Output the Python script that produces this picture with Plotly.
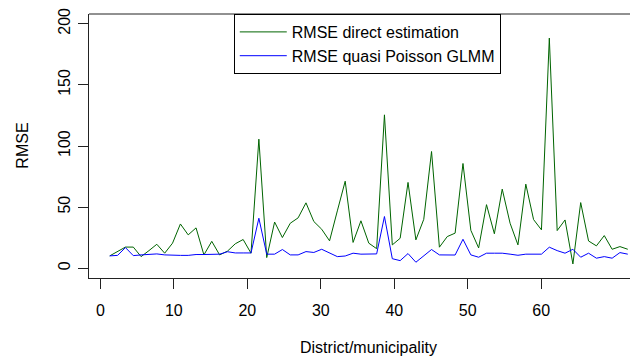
import plotly.graph_objects as go

# district positions along the x axis (67 evenly spaced points)
district_x = [
    1.27, 2.34, 3.41, 4.48, 5.54, 6.61, 7.68, 8.75, 9.82, 10.89,
    11.95, 13.02, 14.09, 15.16, 16.23, 17.30, 18.36, 19.43, 20.50, 21.57,
    22.64, 23.71, 24.77, 25.84, 26.91, 27.98, 29.05, 30.12, 31.19, 32.25,
    33.32, 34.39, 35.46, 36.53, 37.60, 38.66, 39.73, 40.80, 41.87, 42.94,
    44.01, 45.07, 46.14, 47.21, 48.28, 49.35, 50.42, 51.48, 52.55, 53.62,
    54.69, 55.76, 56.83, 57.90, 58.96, 60.03, 61.10, 62.17, 63.24, 64.31,
    65.37, 66.44, 67.51, 68.58, 69.65, 70.71, 71.78,
]

rmse_direct = [
    10.1, 13.6, 17.3, 17.3, 9.5, 14.4, 19.6, 12.3, 20.5, 36.2,
    27.3, 33.0, 10.9, 22.0, 10.9, 14.0, 20.0, 23.5, 12.3, 105.6,
    8.7, 37.8, 25.1, 36.8, 41.2, 53.5, 38.2, 31.9, 22.4, 46.9,
    71.2, 21.1, 38.8, 20.5, 16.0, 125.5, 19.1, 24.5, 70.2, 23.2,
    40.0, 95.5, 17.2, 25.9, 28.7, 85.7, 31.0, 16.6, 52.0, 28.2,
    64.7, 36.8, 19.1, 68.8, 39.8, 31.4, 188.3, 30.8, 39.5, 3.5,
    53.7, 22.3, 18.3, 26.7, 15.5, 17.7, 15.5,
]

rmse_glmm = [
    10.1, 10.5, 16.9, 10.3, 10.9, 11.5, 11.7, 10.9, 10.5, 10.5,
    10.5, 11.2, 11.2, 11.2, 11.5, 13.5, 12.5, 12.5, 12.5, 40.9,
    11.5, 11.5, 15.3, 10.9, 10.9, 13.6, 12.9, 15.5, 12.3, 9.5,
    10.0, 12.3, 11.5, 11.5, 11.7, 42.3, 7.8, 6.2, 12.0, 4.9,
    10.2, 15.3, 10.9, 10.9, 10.8, 23.7, 10.9, 9.0, 12.3, 12.3,
    12.3, 11.5, 10.6, 11.5, 11.5, 11.5, 17.2, 14.4, 12.3, 15.5,
    9.0, 12.3, 8.2, 9.5, 8.2, 12.8, 11.5,
]

x_ticks = [0, 10, 20, 30, 40, 50, 60]
y_ticks = [0, 50, 100, 150, 200]

series_names = ["RMSE direct estimation", "RMSE quasi Poisson GLMM"]
x_title = "District/municipality"
y_title = "RMSE"

FONT = "Liberation Sans, Arial, sans-serif"
AXC = "#222222"

fig = go.Figure()
fig.add_trace(go.Scatter(x=district_x, y=rmse_direct, mode="lines",
                         name=series_names[0],
                         line=dict(color="#006400", width=1)))
fig.add_trace(go.Scatter(x=district_x, y=rmse_glmm, mode="lines",
                         name=series_names[1],
                         line=dict(color="#0000FF", width=1)))

# The page body has an 8px margin, so the figure is sized to fill the rest of the window.
fig.update_layout(
    width=630, height=350,
    margin=dict(l=81.3, r=0, t=6, b=79.7, autoexpand=False),
    paper_bgcolor="white", plot_bgcolor="white",
    font=dict(family=FONT, size=16, color="#000000"),
    showlegend=True,
    legend=dict(x=0.2637, y=1, xanchor="left", yanchor="top",
                bgcolor="white", bordercolor="#000000", borderwidth=1,
                font=dict(family=FONT, size=16, color="#000000"),
                itemwidth=47, tracegroupgap=0),
    xaxis=dict(range=[-1.55, 73.17], tickvals=x_ticks, ticktext=[str(v) for v in x_ticks],
               showgrid=False, zeroline=False, showline=True, linecolor=AXC,
               linewidth=1, ticks="outside", ticklen=10, tickcolor=AXC,
               ticklabelstandoff=8, ticklabeloverflow="allow"),
    yaxis=dict(range=[-8, 208], tickvals=y_ticks, ticktext=[str(v) for v in y_ticks],
               showgrid=False, zeroline=False, showline=True, linecolor=AXC,
               linewidth=1, ticks="outside", ticklen=10, tickcolor=AXC,
               tickangle=-90, ticklabelstandoff=2, ticklabeloverflow="allow"),
    shapes=[dict(type="line", xref="paper", yref="paper", x0=0, x1=1, y0=1, y1=1,
                 line=dict(color=AXC, width=1))],
    annotations=[
        dict(text=x_title, xref="paper", yref="paper", x=0.5098, y=-0.2637,
             xanchor="center", yanchor="middle", showarrow=False,
             font=dict(family=FONT, size=16, color="#000000")),
        dict(text=y_title, xref="paper", yref="paper", x=-0.1227, y=0.5,
             xanchor="center", yanchor="middle", textangle=-90, showarrow=False,
             font=dict(family=FONT, size=16, color="#000000")),
    ],
)

fig.write_html("out.html")
